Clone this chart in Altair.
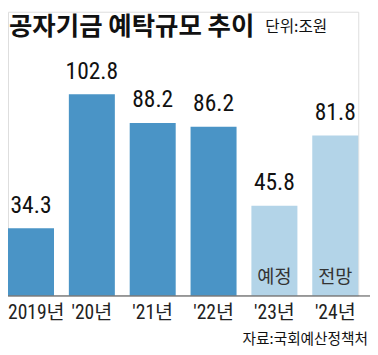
import altair as alt
import pandas as pd

years = ["2019년", "'20년", "'21년", "'22년", "'23년", "'24년"]
values = [34.3, 102.8, 88.2, 86.2, 45.8, 81.8]
kinds = ["실적", "실적", "실적", "실적", "계획", "계획"]
notes = ["", "", "", "", "예정", "전망"]

title_text = "공자기금 예탁규모 추이"
unit_text = "단위:조원"
source_text = "자료:국회예산정책처"

NUM_FONT = "Liberation Sans Narrow, Roboto Condensed, DejaVu Sans Condensed, Noto Sans CJK KR"
KR_FONT = "Noto Sans CJK KR"

df = pd.DataFrame({"year": years, "value": values, "kind": kinds, "note": notes})

W, H = 358, 290

first = f"datum.value == '{years[0]}'"
x = alt.X("year:N", sort=years,
          scale=alt.Scale(paddingInner=0.244, paddingOuter=0),
          axis=alt.Axis(title=None, domain=False, ticks=False, labelAngle=0,
                        labelFontSize=20, labelFont=NUM_FONT, labelColor="#222",
                        labelPadding=8,
                        labelAlign={"condition": {"test": first, "value": "left"}, "value": "center"},
                        labelOffset={"condition": {"test": first, "value": -23.5}, "value": 0},
                        labelBound=False, labelOverlap=False))
y = alt.Y("value:Q", scale=alt.Scale(domain=[0, 145]), axis=None)

base = alt.Chart(df).encode(x=x, y=y)

bars = base.mark_bar().encode(
    color=alt.Color("kind:N", scale=alt.Scale(domain=["실적", "계획"], range=["#4a94c6", "#b3d4e8"]), legend=None)
)

labels = base.mark_text(baseline="bottom", dy=-11, fontSize=24, font=NUM_FONT, color="#111").encode(
    text=alt.Text("value:Q", format=".1f")
)

note_marks = alt.Chart(df).transform_filter("datum.note != ''").mark_text(
    baseline="bottom", fontSize=19, font=KR_FONT, color="#333"
).encode(x=x, y=alt.value(H - 9), text="note:N")

ann = pd.DataFrame({"a": [1]})
axis_line = alt.Chart(ann).mark_rule(color="#444", strokeWidth=1).encode(
    x=alt.value(-8), x2=alt.value(370), y=alt.value(H + 0.5))

title = alt.Chart(ann).mark_text(align="left", baseline="middle", fontSize=26, fontWeight="bold",
                                 font=KR_FONT, color="#111").encode(
    x=alt.value(1), y=alt.value(16), text=alt.value(title_text))
unit = alt.Chart(ann).mark_text(align="left", baseline="middle", fontSize=16,
                                font=KR_FONT, color="#111").encode(
    x=alt.value(263), y=alt.value(16), text=alt.value(unit_text))
source = alt.Chart(ann).mark_text(align="right", baseline="middle", fontSize=15,
                                  font=KR_FONT, color="#111").encode(
    x=alt.value(368), y=alt.value(335), text=alt.value(source_text))

chart = alt.layer(bars, labels, note_marks, axis_line, title, unit, source).properties(
    width=W, height=H,
    autosize=alt.AutoSizeParams(type="none"),
    padding={"left": 0, "top": 0, "right": 12, "bottom": 57},
).configure_view(stroke=None).configure(background="white")

chart.save("out.html", embed_options={"renderer": "svg", "actions": False})
